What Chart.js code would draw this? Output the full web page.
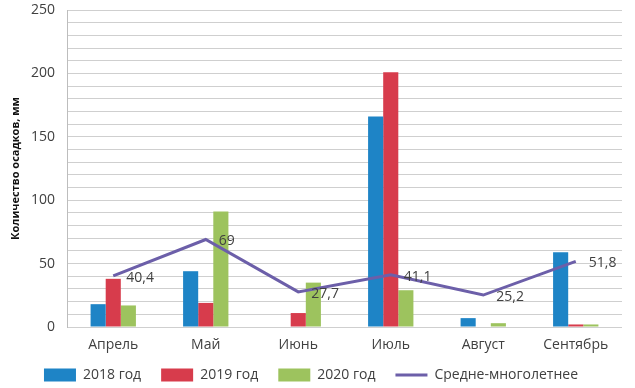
<!DOCTYPE html>
<html lang="ru">
<head>
    <meta charset="UTF-8">
    <title>Количество осадков</title>
    <style>
        html, body { margin: 0; padding: 0; background: #fff; }
        #wrap { width: 635px; height: 388px; }
    </style>
</head>
<body>
    <div id="wrap"><canvas id="barChart" width="635" height="388"></canvas></div>

    <script src="https://cdn.jsdelivr.net/npm/chart.js"></script>

    <script>
        const months = ['Апрель', 'Май', 'Июнь', 'Июль', 'Август', 'Сентябрь'];
        const rain2018 = [18, 44, 0, 166, 7, 59];
        const rain2019 = [38, 19, 11, 201, 0, 2];
        const rain2020 = [17, 91, 35, 29, 3, 2];
        const longTermAvg = [40.4, 69, 27.7, 41.1, 25.2, 51.8];

        const FONT = 'Open Sans';

        // подписи значений справа от точек линии
        const avgLabels = {
            id: 'avgLabels',
            afterDatasetsDraw(chart) {
                const meta = chart.getDatasetMeta(3);
                const ctx = chart.ctx;
                ctx.save();
                ctx.font = '14px "' + FONT + '"';
                ctx.fillStyle = '#404040';
                ctx.textAlign = 'left';
                ctx.textBaseline = 'middle';
                meta.data.forEach(function (pt, i) {
                    const txt = String(longTermAvg[i]).replace('.', ',');
                    ctx.fillText(txt, pt.x + 13, pt.y + 2);
                });
                ctx.restore();
            }
        };

        // легенда чуть выше: широкие промежутки между элементами, но низкая полоса
        const legendShift = {
            id: 'legendShift',
            afterLayout(chart) {
                chart.legend.top -= 6;
                chart.legend.bottom -= 6;
            }
        };

        var ctx = document.getElementById('barChart').getContext('2d');

        var barChart = new Chart(ctx, {
            data: {
                labels: months,
                datasets: [{
                    type: 'bar',
                    label: '2018 год',
                    data: rain2018,
                    backgroundColor: '#1e84c6',
                    order: 2
                },
                {
                    type: 'bar',
                    label: '2019 год',
                    data: rain2019,
                    backgroundColor: '#d73c4c',
                    order: 2
                },
                {
                    type: 'bar',
                    label: '2020 год',
                    data: rain2020,
                    backgroundColor: '#9dc35e',
                    order: 2
                },
                {
                    type: 'line',
                    label: 'Средне-многолетнее',
                    data: longTermAvg,
                    borderColor: '#6c5fa9',
                    backgroundColor: '#6c5fa9',
                    borderWidth: 3,
                    pointRadius: 0,
                    tension: 0,
                    order: 1
                }]
            },
            options: {
                responsive: false,
                animation: false,
                layout: {
                    padding: { top: 0, right: 13, left: 0, bottom: 0 }
                },
                datasets: {
                    bar: {
                        barPercentage: 1,
                        categoryPercentage: 0.49
                    }
                },
                scales: {
                    x: {
                        grid: { display: false, drawTicks: false },
                        border: { display: false },
                        ticks: {
                            color: '#404040',
                            font: { family: FONT, size: 14 },
                            padding: 10
                        },
                        afterFit(scale) { scale.height = 27; }
                    },
                    y: {
                        min: 0,
                        max: 250,
                        grid: { color: '#cfcfcf', lineWidth: 1, drawTicks: false },
                        border: { display: true, color: '#bdbdbd' },
                        ticks: {
                            stepSize: 10,
                            autoSkip: false,
                            color: '#404040',
                            padding: 12,
                            font: { family: FONT, size: 14 },
                            callback: function (v) { return v % 50 === 0 ? v : ''; }
                        },
                        title: {
                            display: true,
                            text: 'Количество осадков, мм',
                            color: '#111',
                            font: { family: FONT, size: 11, weight: 'bold' },
                            padding: { top: 9, bottom: 0 }
                        },
                        afterFit(scale) {
                            scale.width = 67;
                            scale.paddingTop = 10;
                        }
                    }
                },
                plugins: {
                    tooltip: { enabled: false },
                    legend: {
                        position: 'bottom',
                        maxHeight: 34,
                        labels: {
                            color: '#404040',
                            font: { family: FONT, size: 14 },
                            usePointStyle: true,
                            pointStyleWidth: 32,
                            boxHeight: 13,
                            padding: 20,
                            sort: function (a, b) { return a.datasetIndex - b.datasetIndex; },
                            generateLabels(chart) {
                                const items = Chart.defaults.plugins.legend.labels.generateLabels(chart);
                                items.forEach(function (it) {
                                    if (it.datasetIndex === 3) {
                                        it.pointStyle = 'line';
                                    } else {
                                        it.pointStyle = 'rect';
                                        it.lineWidth = 0;
                                    }
                                });
                                return items;
                            }
                        }
                    }
                }
            },
            plugins: [avgLabels, legendShift]
        });
    </script>
</body>
</html>
